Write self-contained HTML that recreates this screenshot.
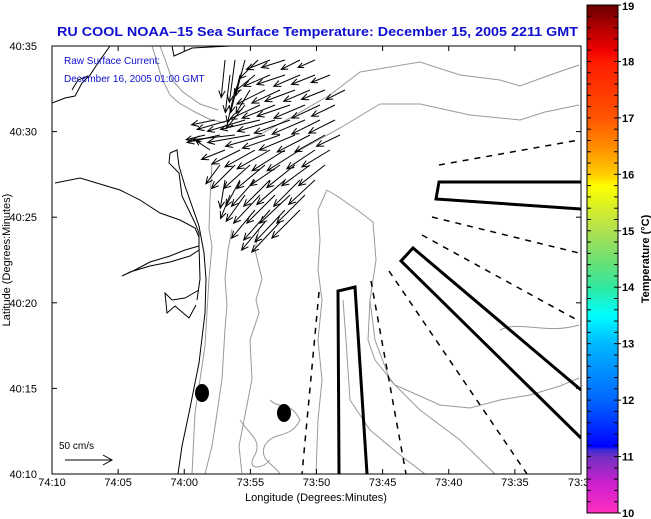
<!DOCTYPE html>
<html><head><meta charset="utf-8"><style>
html,body{margin:0;padding:0;background:#fff;}
svg{display:block;font-family:"Liberation Sans",sans-serif;}
</style></head><body>
<svg id="map" width="651" height="519" viewBox="0 0 651 519" xmlns="http://www.w3.org/2000/svg">
<defs>
<linearGradient id="cbar" x1="0" y1="0" x2="0" y2="1">
<stop offset="0" stop-color="#6a0000"/><stop offset="0.044" stop-color="#b00000"/><stop offset="0.089" stop-color="#f00000"/><stop offset="0.111" stop-color="#ff1a00"/><stop offset="0.222" stop-color="#ff5500"/><stop offset="0.278" stop-color="#ff8c00"/><stop offset="0.333" stop-color="#ffcc00"/><stop offset="0.356" stop-color="#ffff00"/><stop offset="0.444" stop-color="#b0e050"/><stop offset="0.5" stop-color="#70e070"/><stop offset="0.556" stop-color="#30e8a0"/><stop offset="0.611" stop-color="#00ffff"/><stop offset="0.667" stop-color="#00b8ff"/><stop offset="0.778" stop-color="#0066ff"/><stop offset="0.87" stop-color="#0000ff"/><stop offset="0.875" stop-color="#3a2ad8"/><stop offset="0.889" stop-color="#7030c0"/><stop offset="0.944" stop-color="#d020d0"/><stop offset="1" stop-color="#ff30c0"/>
</linearGradient>
<clipPath id="plotclip"><rect x="52" y="46" width="529" height="428"/></clipPath>
</defs>
<text x="57" y="36" font-size="13" font-weight="bold" fill="#1010d0" textLength="521" lengthAdjust="spacingAndGlyphs">RU COOL  NOAA–15  Sea Surface Temperature:  December 15, 2005 2211 GMT</text>
<g clip-path="url(#plotclip)">
<g fill="none" stroke="#999" stroke-width="1">
<path d="M152,46 L158,65 L162,79 L170,95 L179,103 L195,112 L209,119 L225,123"/>
<path d="M160,46 L166,62 L172,80 L183,92 L200,104 L218,110"/>
<path d="M212,163 L210,200 L209,229 L212,246 L209,279 L205,346 L195,413 L192,474"/>
<path d="M232,229 L228,250 L225,279 L227,305 L225,329 L222,379 L216,420 L212,446 L205,474"/>
<path d="M259,229 L255,250 L262,279 L256,300 L259,313 L250,340 L252,379 L246,410 L239,446 L242,474"/>
<path d="M250,140 L290,118 L330,95 L360,72 L420,62 L460,75 L500,80 L520,86 L550,75 L579,65"/>
<path d="M300,150 L340,128 L380,104 L420,104 L470,115 L520,120 L545,112 L579,105"/>
<path d="M327,190 L340,198 L360,212 L373,222 L376,260 L370,300 L368,340 L375,360 L395,385 L420,396 L440,405 L470,408 L500,400 L530,395 L560,386 L579,378"/>
<path d="M327,190 L318,210 L320,240 L318,270 L322,300 L318,340 L322,380 L318,420 L316,474"/>
<path d="M343,300 L346,340 L350,400 L370,430 L400,455 L425,474"/>
<path d="M370,300 L375,340 L390,380 L420,410 L460,440 L495,474"/>
<path d="M270,400 C280,410 290,400 300,420 C290,440 275,430 265,445 C258,460 275,465 280,474"/>
<path d="M240,420 C250,435 262,440 255,455 C245,470 262,470 270,460"/>
<path d="M500,330 C520,320 545,335 579,325"/>
</g>
<g fill="none" stroke="#000" stroke-width="1">
<path d="M55,183 L80,178 L100,184 L120,190 L140,200 L160,213 L180,220 L195,228 L199,237"/>
<path d="M170,153 L177,150 L179,166 L185,186 L199,226 L204,253 L206,279 L205,313 L199,363 L189,413 L182,446 L178,474"/>
<path d="M170,153 L169,163 L179,173 L182,196 L195,223 L199,233 L199,246 L200,279 L197,300"/>
<path d="M199,246 L185,250 L170,256 L150,262 L135,270 L122,276 L130,272 L150,266 L170,262 L190,256 L199,250"/>
<path d="M199,290 L185,298 L172,300 L165,293 L167,313 L175,306 L189,318 L196,305"/>
<path d="M52,103 L65,98 L75,96 L82,83 L90,75 L100,60 L110,46"/>
<path d="M72,90 L78,80 L88,76"/>
<path d="M172,46 L174,56 L192,48 L230,46"/>
</g>
<g fill="none" stroke="#000" stroke-width="3">
<path d="M339,474 L338,291 L355,287 L367,474"/>
<path d="M581,182 L439,182 L436,199 L581,209"/>
<path d="M581,390 L413,248 L401,261 L581,438"/>
</g>
<g fill="none" stroke="#000" stroke-width="1.5" stroke-dasharray="6,6">
<path d="M319,292 L302,474"/>
<path d="M371,281 L406,474"/>
<path d="M389,271 L527,474"/>
<path d="M422,235 L579,321"/>
<path d="M432,217 L579,253"/>
<path d="M439,165 L579,140"/>
</g>
<ellipse cx="202" cy="393" rx="7" ry="9" fill="#000"/>
<ellipse cx="284" cy="413" rx="7" ry="9" fill="#000"/>
<g id="vectors" stroke="#000" stroke-width="1" fill="none"></g>
</g>
<rect x="52" y="46" width="529" height="428" fill="none" stroke="#000" stroke-width="1"/>
<g id="ticks" stroke="#000" stroke-width="1"></g>
<g id="ticklabels" font-size="11" fill="#000"></g>
<text x="64" y="64" font-size="10" fill="#1010d0">Raw Surface Current:</text>
<text x="64" y="82" font-size="10" fill="#1010d0">December 16, 2005 01:00 GMT</text>
<text x="59" y="449" font-size="10" fill="#000">50 cm/s</text>
<g stroke="#000" fill="none"><path d="M65,460 L112,460 M103,455 L112,460 L103,465"/></g>
<text x="316" y="501" font-size="11" text-anchor="middle">Longitude (Degrees:Minutes)</text>
<text transform="translate(10,260) rotate(-90)" font-size="11" text-anchor="middle">Latitude (Degrees:Minutes)</text>
<rect x="587" y="5" width="31" height="508" fill="url(#cbar)" stroke="#000" stroke-width="1"/>
<g id="cbticks" stroke="#000" stroke-width="1"></g>
<g id="cblabels" font-size="11" font-weight="bold" fill="#000"></g>
<text transform="translate(649,259) rotate(-90)" font-size="11" font-weight="bold" text-anchor="middle">Temperature (°C)</text>
</svg>
<script>
const NS="http://www.w3.org/2000/svg";
const xTickLabels=["74:10","74:05","74:00","73:55","73:50","73:45","73:40","73:35","73:3"];
const yTickLabels=["40:35","40:30","40:25","40:20","40:15","40:10"];
const cbValues=[19,18,17,16,15,14,13,12,11,10];
// vector origins (pixel grid) and components (cm/s, u east, v north)
const vecX=[225,235,245,258,270,285,300,315, 230,240,255,270,285,300,315,330, 235,250,265,280,295,310,325,345, 245,260,275,290,305,320,335, 215,230,245,260,275,290,305,320,335, 205,220,235,250,265,280,295,310,325,340, 210,225,240,255,270,285,300,315,330, 220,235,250,265,280,295,310,325, 225,240,255,270,285,300,315, 230,245,260,275,290,305, 255,270,285,300, 265,280];
const vecY=[60,60,60,60,60,60,60,60, 75,75,75,75,75,75,75,75, 90,90,90,90,90,90,90,90, 105,105,105,105,105,105,105, 120,120,120,120,120,120,120,120,120, 135,135,135,135,135,135,135,135,135,135, 150,150,150,150,150,150,150,150,150, 165,165,165,165,165,165,165,165, 180,180,180,180,180,180,180, 195,195,195,195,195,195, 210,210,210,210, 222,222];
const vecU=[-4,-6,-10,-20,-25,-25,-20,-18, -5,-10,-22,-28,-30,-28,-25,-20, -8,-15,-30,-30,-32,-28,-25,-20, -20,-32,-35,-35,-33,-30,-25, -25,-35,-40,-42,-40,-38,-35,-30,-28, -20,-35,-45,-45,-42,-40,-38,-35,-32,-25, -15,-25,-30,-32,-35,-35,-35,-30,-30, -15,-25,-28,-30,-32,-30,-30,-28, -5,-15,-25,-28,-30,-28,-28, -10,-20,-28,-30,-32,-30, -25,-28,-32,-30, -25,-30];
const vecV=[-40,-45,-38,-20,-10,-8,-10,-8, -40,-40,-18,-12,-10,-12,-10,-8, -35,-25,-15,-14,-12,-12,-10,-10, -25,-15,-14,-12,-14,-14,-12, -5,-10,-12,-10,-12,-14,-15,-15,-14, -5,-8,-5,-8,-12,-14,-16,-18,-18,-12, 10,-10,-15,-18,-20,-22,-22,-20,-18, -20,-25,-25,-25,-22,-24,-22,-22, -30,-28,-28,-28,-26,-28,-26, -25,-28,-30,-30,-30,-30, -30,-32,-34,-30, -30,-32];
// axis mappings
const xLeft=52,xRight=581,yTop=46,yBot=474;
const xAt=i=>xLeft+(xRight-xLeft)*i/(xTickLabels.length-1);
const yAt=i=>yTop+(yBot-yTop)*i/(yTickLabels.length-1);
const cbTop=5,cbBot=513;
const cbY=v=>cbTop+(19-v)/9*(cbBot-cbTop);
const vScale=47/50;

const vg=document.getElementById('vectors');
for(let i=0;i<vecX.length;i++){
  const x0=vecX[i],y0=vecY[i],dx=vecU[i]*vScale,dy=-vecV[i]*vScale;
  const x1=x0+dx,y1=y0+dy,L=Math.hypot(dx,dy)||1,ux=dx/L,uy=dy/L,h=Math.min(7,L*0.3);
  const p=document.createElementNS(NS,'path');
  p.setAttribute('d',`M${x0},${y0} L${x1},${y1} M${x1-h*ux+h*0.45*uy},${y1-h*uy-h*0.45*ux} L${x1},${y1} L${x1-h*ux-h*0.45*uy},${y1-h*uy+h*0.45*ux}`);
  
  
  vg.appendChild(p);
}
const tg=document.getElementById('ticks'),lg=document.getElementById('ticklabels');
function ln(g,x1,y1,x2,y2,name){const l=document.createElementNS(NS,'line');l.setAttribute('x1',x1);l.setAttribute('y1',y1);l.setAttribute('x2',x2);l.setAttribute('y2',y2);
  
  
  g.appendChild(l);}
function tx(g,x,y,s,anchor,name){const t=document.createElementNS(NS,'text');t.setAttribute('x',x);t.setAttribute('y',y);t.setAttribute('text-anchor',anchor);t.textContent=s;
  
  
  g.appendChild(t);}
xTickLabels.forEach((s,i)=>{const x=xAt(i);ln(tg,x,yBot,x,yBot-5,'x-tick');ln(tg,x,yTop,x,yTop+5,'x-tick');tx(lg,Math.min(x,568),486,s,i===xTickLabels.length-1?'start':'middle','x-tick-label');});
yTickLabels.forEach((s,i)=>{const y=yAt(i);ln(tg,xLeft,y,xLeft+5,y,'y-tick');ln(tg,xRight,y,xRight-5,y,'y-tick');tx(lg,37,y+4,s,'end','y-tick-label');});
const cg=document.getElementById('cbticks'),cl=document.getElementById('cblabels');
for(let k=0;k<=45;k++){const y=cbTop+k*(cbBot-cbTop)/45;ln(cg,587,y,591,y,'colorbar-minor-tick');ln(cg,618,y,614,y,'colorbar-minor-tick');}
cbValues.forEach(v=>{const y=cbY(v);ln(cg,618,y,621,y,'colorbar-tick');tx(cl,622,Math.min(Math.max(y+4,10),518),String(v),'start','colorbar-tick-label');});
</script>
</body></html>
